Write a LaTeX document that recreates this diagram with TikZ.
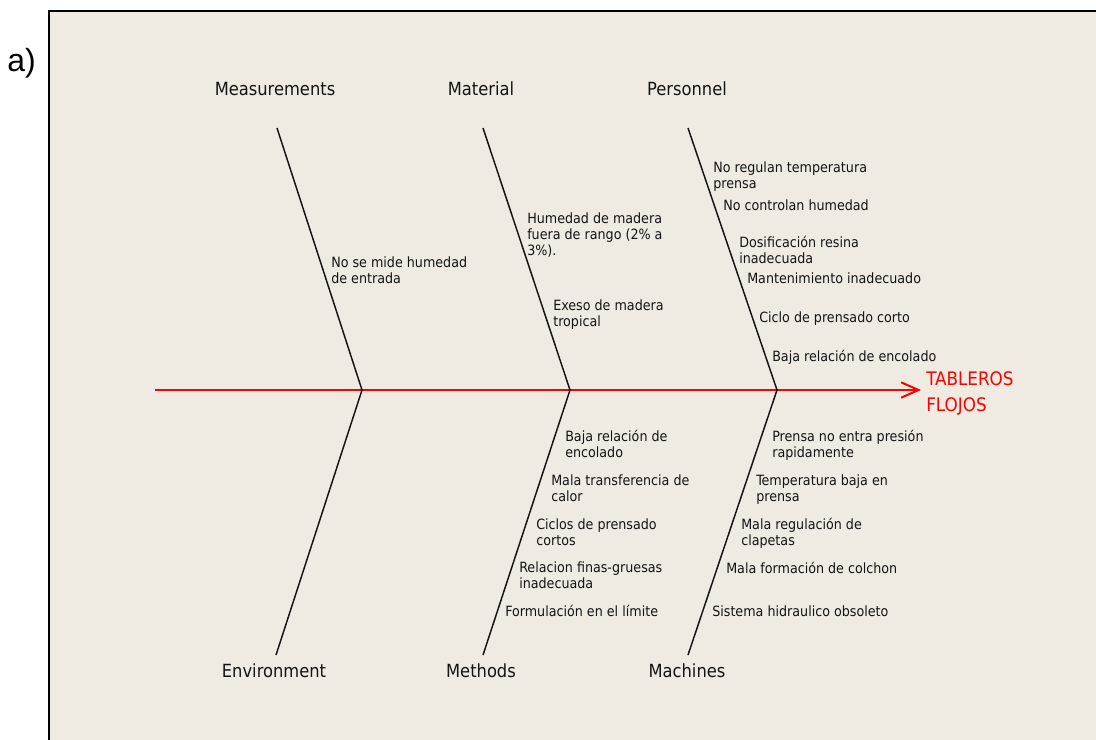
\documentclass[tikz,border=0pt]{standalone}
\usepackage{fontspec}
\setmainfont{DejaVu Sans Condensed}
\newfontfamily\tagfont{Liberation Sans}
\usetikzlibrary{arrows.meta}
\definecolor{paper}{RGB}{239,235,226}
\definecolor{ink}{RGB}{20,20,20}
\begin{document}
\begin{tikzpicture}[x=0.75pt,y=-0.75pt,
  bone/.style={line width=1.1pt, ink},
  spine/.style={line width=1.5pt, red, -{Straight Barb[length=13pt,width=11.5pt]}},
  cat/.style={font=\fontsize{13.6}{16}\selectfont, text=ink, anchor=base, inner sep=0pt},
  cause/.style={font=\fontsize{10.6}{12}\selectfont, text=ink, anchor=base west, align=left, inner sep=0pt},
  effect/.style={font=\fontsize{14}{19.5}\selectfont, text=red, anchor=base west, align=left, inner sep=0pt},
]
\useasboundingbox (0,0) rectangle (1096,739);
\clip (0,0) rectangle (1096,739);

% panel frame
\draw[line width=2pt, fill=paper] (49,11) rectangle (1110,760);
\node[font=\tagfont\fontsize{24}{28}\selectfont, anchor=base west, inner sep=0pt] (tag) at (7,71) {a)};

% spine and effect (node anchors sit on the baseline of the last line)
\coordinate (tail) at (155,390);
\coordinate (tip) at (921,390);
\draw[spine] (tail) -- (tip);
\node[effect] (effect) at (926,411) {TABLEROS\\FLOJOS};

% joints on the spine
\coordinate (j1) at (362,390);
\coordinate (j2) at (570,390);
\coordinate (j3) at (777,390);

% bone ends
\coordinate (t1) at (277,128);
\coordinate (t2) at (483,128);
\coordinate (t3) at (688,128);
\coordinate (b1) at (276,655);
\coordinate (b2) at (483,655);
\coordinate (b3) at (688,655);

\draw[bone] (t1) -- (j1) -- (b1);
\draw[bone] (t2) -- (j2) -- (b2);
\draw[bone] (t3) -- (j3) -- (b3);

% category labels
\node[cat] (measurements) at (275,95) {Measurements};
\node[cat] (material) at (481,95) {Material};
\node[cat] (personnel) at (687,95) {Personnel};
\node[cat] (environment) at (274,677) {Environment};
\node[cat] (methods) at (481,677) {Methods};
\node[cat] (machines) at (687,677) {Machines};

% causes: measurements
\node[cause] (m1) at (331,283) {No se mide humedad\\de entrada};

% causes: material
\node[cause] (ma1) at (527,255) {Humedad de madera\\fuera de rango (2\% a\\3\%).};
\node[cause] (ma2) at (553,326) {Exeso de madera\\tropical};

% causes: personnel
\node[cause] (p1) at (713,188) {No regulan temperatura\\prensa};
\node[cause] (p2) at (723,210) {No controlan humedad};
\node[cause] (p3) at (739,263) {Dosificación resina\\inadecuada};
\node[cause] (p4) at (747,283) {Mantenimiento inadecuado};
\node[cause] (p5) at (759,322) {Ciclo de prensado corto};
\node[cause] (p6) at (772,361) {Baja relación de encolado};

% causes: methods
\node[cause] (me1) at (565,457) {Baja relación de\\encolado};
\node[cause] (me2) at (551,501) {Mala transferencia de\\calor};
\node[cause] (me3) at (536,545) {Ciclos de prensado\\cortos};
\node[cause] (me4) at (519,588) {Relacion finas-gruesas\\inadecuada};
\node[cause] (me5) at (505,616) {Formulación en el límite};

% causes: machines
\node[cause] (mc1) at (772,457) {Prensa no entra presión\\rapidamente};
\node[cause] (mc2) at (756,501) {Temperatura baja en\\prensa};
\node[cause] (mc3) at (741,545) {Mala regulación de\\clapetas};
\node[cause] (mc4) at (726,573) {Mala formación de colchon};
\node[cause] (mc5) at (712,616) {Sistema hidraulico obsoleto};
\end{tikzpicture}
\end{document}
